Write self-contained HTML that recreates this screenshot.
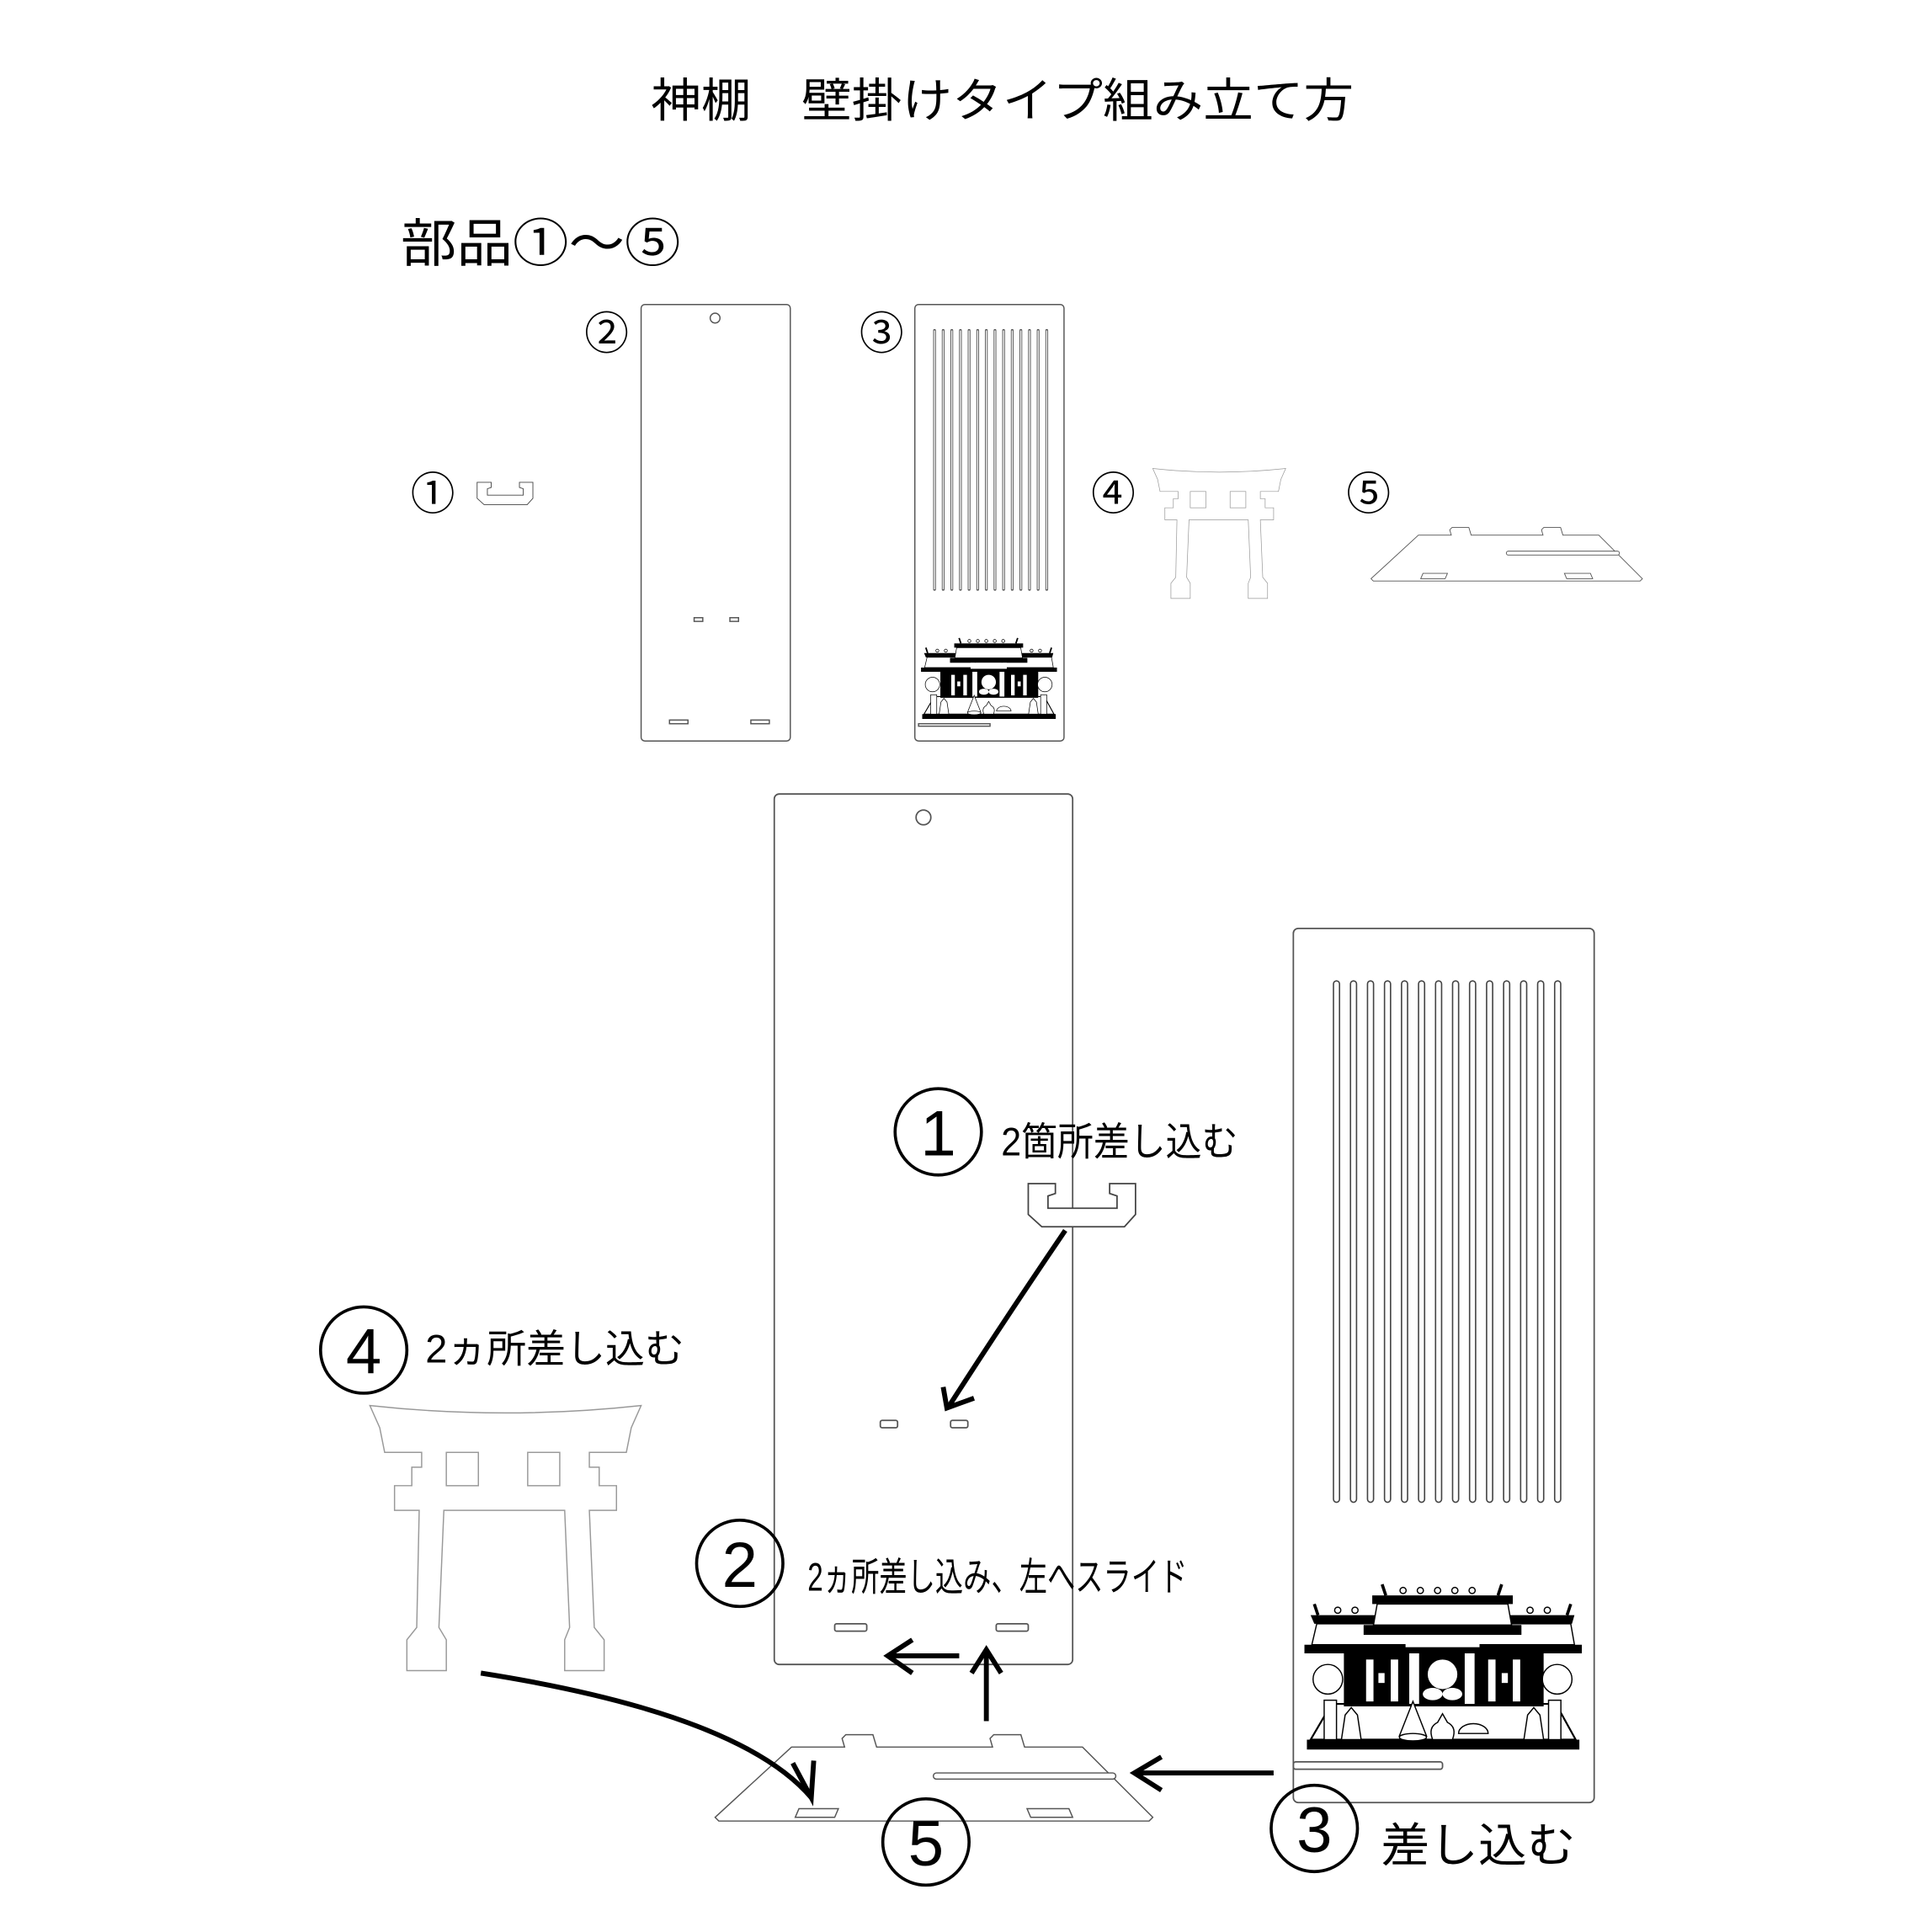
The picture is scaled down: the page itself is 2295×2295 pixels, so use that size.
<!DOCTYPE html>
<html><head><meta charset="utf-8"><style>
html,body{margin:0;padding:0;background:#fff;}
svg{display:block;}
text{font-family:"Liberation Sans","Noto Sans CJK JP",sans-serif;fill:#000;}
</style></head><body>
<svg width="2295" height="2295" viewBox="0 0 1567 1567" xmlns="http://www.w3.org/2000/svg" xmlns:xlink="http://www.w3.org/1999/xlink">
<defs>
<g id="torii" fill="#fff" stroke="#999" stroke-width="1">
<path d="M300,1140 Q410,1152 520,1140 L512,1158 L508,1178 L478,1178 L478,1190 L486,1190 L486,1205 L500,1205 L500,1225 L478,1225 L482,1320 L490,1330 L490,1355 L458,1355 L458,1330 L462,1320 L458,1225 L360,1225 L356,1320 L362,1330 L362,1355 L330,1355 L330,1330 L338,1320 L340,1225 L320,1225 L320,1205 L334,1205 L334,1190 L342,1190 L342,1178 L312,1178 L308,1158 Z"/>
<rect x="362" y="1178" width="26" height="27"/><rect x="428" y="1178" width="26" height="27"/>
</g>
<g id="part5" fill="#fff" stroke="#555" stroke-width="1">
<path d="M642,1417 L685,1417 L683,1410 L686,1407 L708,1407 L711,1417 L805,1417 L803,1410 L806,1407 L828,1407 L831,1417 L878,1417 L935,1474 L932,1477 L583,1477 L580,1474 Z"/>
<path d="M648,1467 L680,1467 L677,1474 L645,1474 Z"/>
<path d="M833,1467 L867,1467 L870,1474 L836,1474 Z"/>
<rect x="757" y="1438" width="148" height="5" rx="2.5"/>
</g>
<g id="part1" fill="#fff" stroke="#444" stroke-width="1.2">
<path d="M834,960 L856,960 L856,968 L850,970 L850,980 L906,980 L906,970 L900,968 L900,960 L921,960 L921,985 L912,995 L845,995 L834,985 Z"/>
</g>
<g id="shrine">
<rect x="1060" y="1411" width="221" height="8" fill="#000"/>
<path d="M1063,1411 L1080,1382 L1262,1382 L1278,1411 Z" fill="#fff" stroke="#000" stroke-width="1.5"/>
<rect x="1090" y="1336" width="162" height="48" fill="#000"/>
<rect x="1108" y="1346" width="6" height="34" fill="#fff"/>
<rect x="1128" y="1346" width="6" height="34" fill="#fff"/>
<rect x="1143" y="1326" width="8" height="56" fill="#fff"/>
<rect x="1188" y="1326" width="8" height="56" fill="#fff"/>
<rect x="1207" y="1346" width="6" height="34" fill="#fff"/>
<rect x="1227" y="1346" width="6" height="34" fill="#fff"/>
<circle cx="1170" cy="1358" r="12" fill="#fff"/>
<ellipse cx="1162" cy="1374" rx="8" ry="5" fill="#fff"/>
<ellipse cx="1178" cy="1374" rx="8" ry="5" fill="#fff"/>
<rect x="1118" y="1357" width="5" height="8" fill="#fff"/>
<rect x="1218" y="1357" width="5" height="8" fill="#fff"/>
<path d="M1063,1310 L1148,1310 L1148,1317 L1066,1317 Z" fill="#000"/>
<path d="M1192,1310 L1277,1310 L1275,1317 L1192,1317 Z" fill="#000"/>
<path d="M1068,1317 L1148,1317 L1148,1334 L1064,1334 Z" fill="#fff" stroke="#000" stroke-width="1"/>
<path d="M1192,1317 L1274,1317 L1277,1334 L1192,1334 Z" fill="#fff" stroke="#000" stroke-width="1"/>
<rect x="1058" y="1334" width="225" height="7" fill="#000"/>
<rect x="1113" y="1294" width="114" height="7" fill="#000"/>
<path d="M1117,1301 L1223,1301 L1226,1318 L1114,1318 Z" fill="#fff" stroke="#000" stroke-width="1"/>
<rect x="1106" y="1318" width="128" height="8" fill="#000"/>
<rect x="1140" y="1326" width="60" height="10" fill="#fff"/>
<path d="M1121,1285 l3,9 M1218,1285 l-3,9 M1066,1301 l3,9 M1274,1301 l-3,9" stroke="#000" stroke-width="2.5"/>
<g fill="#fff" stroke="#000" stroke-width="1">
<circle cx="1138" cy="1290" r="2.5"/><circle cx="1152" cy="1290" r="2.5"/><circle cx="1166" cy="1290" r="2.5"/><circle cx="1180" cy="1290" r="2.5"/><circle cx="1194" cy="1290" r="2.5"/>
<circle cx="1085" cy="1306" r="2.5"/><circle cx="1099" cy="1306" r="2.5"/><circle cx="1241" cy="1306" r="2.5"/><circle cx="1255" cy="1306" r="2.5"/>
<circle cx="1077" cy="1362" r="12"/><circle cx="1263" cy="1362" r="12"/>
<rect x="1074" y="1379" width="10" height="32"/><rect x="1256" y="1379" width="10" height="32"/>
<path d="M1088,1411 l3,-20 l5,-6 l5,6 l3,20 Z"/><path d="M1236,1411 l3,-20 l5,-6 l5,6 l3,20 Z"/>
<path d="M1135,1408 l11,-28 l11,28 Z"/><ellipse cx="1146" cy="1409" rx="11" ry="3"/>
<path d="M1162,1411 q-4,-10 4,-14 l4,-7 l4,7 q8,4 4,14 Z"/>
<path d="M1183,1406 a12,8 0 0 1 24,0 Z"/>
</g>
</g>
</defs>

<text x="528" y="95" font-size="38" textLength="570" lengthAdjust="spacingAndGlyphs">神棚　壁掛けタイプ組み立て方</text>
<text x="325" y="212" font-size="42" textLength="227" lengthAdjust="spacingAndGlyphs">部品①〜⑤</text>

<g font-size="36" text-anchor="middle">
<text x="492" y="283">②</text><text x="715" y="283">③</text>
<text x="351" y="413">①</text><text x="903" y="413">④</text><text x="1110" y="413">⑤</text>
</g>

<!-- small panel 2 -->
<g fill="none" stroke="#555" stroke-width="1">
<rect x="520" y="247" width="121" height="354" rx="3"/>
<circle cx="580" cy="258" r="4"/>
<rect x="563" y="501" width="7" height="3"/><rect x="592" y="501" width="7" height="3"/>
<rect x="543" y="584" width="15" height="3"/><rect x="609" y="584" width="15" height="3"/>
</g>
<!-- small panel 3 -->
<g fill="none" stroke="#555" stroke-width="1">
<rect x="742" y="247" width="121" height="354" rx="3"/>
<rect x="745" y="587" width="58" height="2"/>
</g>
<g stroke="#555" stroke-width="2.2" fill="none" stroke-linecap="round">
<path d="M758,268V478M765,268V478M772,268V478M779,268V478M786,268V478M793,268V478M800,268V478M807,268V478M814,268V478M821,268V478M828,268V478M835,268V478M842,268V478M849,268V478"/>
</g>
<g stroke="#fff" stroke-width="0.9" fill="none">
<path d="M758,268V478M765,268V478M772,268V478M779,268V478M786,268V478M793,268V478M800,268V478M807,268V478M814,268V478M821,268V478M828,268V478M835,268V478M842,268V478M849,268V478"/>
</g>
<use xlink:href="#shrine" transform="translate(228.6,-112.2) scale(0.49)"/>
<use xlink:href="#part1" transform="translate(-46.7,-108) scale(0.52)"/>
<use xlink:href="#torii" transform="translate(788,-178.6) scale(0.49)"/>
<use xlink:href="#part5" transform="translate(752.4,-444.5) scale(0.62)"/>

<!-- big panel 2 -->
<g fill="none" stroke="#555" stroke-width="1.2">
<rect x="628" y="644" width="242" height="706" rx="4"/>
<circle cx="749" cy="663" r="6"/>
<rect x="714" y="1152" width="14" height="6" rx="1.5"/><rect x="771" y="1152" width="14" height="6" rx="1.5"/>
<rect x="677" y="1317" width="26" height="6" rx="1.5"/><rect x="808" y="1317" width="26" height="6" rx="1.5"/>
</g>

<!-- big panel 3 -->
<g fill="none" stroke="#555" stroke-width="1.2">
<rect x="1049" y="753" width="244" height="709" rx="4"/>
<rect x="1049" y="1429" width="121" height="6" rx="2"/>
</g>
<g stroke="#444" stroke-width="6" fill="none" stroke-linecap="round">
<path d="M1084,798V1216M1097.8,798V1216M1111.6,798V1216M1125.4,798V1216M1139.2,798V1216M1153,798V1216M1166.8,798V1216M1180.6,798V1216M1194.4,798V1216M1208.2,798V1216M1222,798V1216M1235.8,798V1216M1249.6,798V1216M1263.4,798V1216"/>
</g>
<g stroke="#fff" stroke-width="3.8" fill="none" stroke-linecap="round">
<path d="M1084,798V1216M1097.8,798V1216M1111.6,798V1216M1125.4,798V1216M1139.2,798V1216M1153,798V1216M1166.8,798V1216M1180.6,798V1216M1194.4,798V1216M1208.2,798V1216M1222,798V1216M1235.8,798V1216M1249.6,798V1216M1263.4,798V1216"/>
</g>
<use xlink:href="#shrine"/>

<use xlink:href="#part1"/>
<use xlink:href="#torii"/>
<use xlink:href="#part5"/>

<!-- labels -->
<g fill="none" stroke="#000" stroke-width="2.5">
<circle cx="761" cy="918" r="35"/>
<circle cx="295" cy="1095" r="35"/>
<circle cx="600" cy="1268" r="35"/>
<circle cx="751" cy="1494" r="35"/>
<circle cx="1066" cy="1483" r="35"/>
</g>
<g font-size="52" text-anchor="middle">
<text x="761" y="937">1</text>
<text x="295" y="1114">4</text>
<text x="600" y="1287">2</text>
<text x="751" y="1513">5</text>
<text x="1066" y="1502">3</text>
</g>
<text x="812" y="937" font-size="32" textLength="192" lengthAdjust="spacingAndGlyphs">2箇所差し込む</text>
<text x="345" y="1105" font-size="32" textLength="210" lengthAdjust="spacingAndGlyphs">2ヵ所差し込む</text>
<text x="655" y="1290" font-size="32" textLength="308" lengthAdjust="spacingAndGlyphs">2ヵ所差し込み、左へスライド</text>
<text x="1120" y="1510" font-size="38" textLength="158" lengthAdjust="spacingAndGlyphs">差し込む</text>

<!-- arrows -->
<g fill="none" stroke="#000" stroke-width="4" stroke-linecap="butt">
<path d="M864,998 Q815,1070 770,1140"/>
<path d="M765,1125 L768,1142 L790,1134"/>
<path d="M778,1343 L720,1343"/>
<path d="M740,1330 L720,1343 L740,1357"/>
<path d="M800,1396 L800,1338"/>
<path d="M788,1357 L800,1338 L812,1357"/>
<path d="M390,1357 Q600,1390 658,1458"/>
<path d="M643,1430 L658,1458 L660,1428"/>
<path d="M1033,1438 L920,1438"/>
<path d="M942,1425 L920,1438 L942,1452"/>
</g>
</svg>
</body></html>
